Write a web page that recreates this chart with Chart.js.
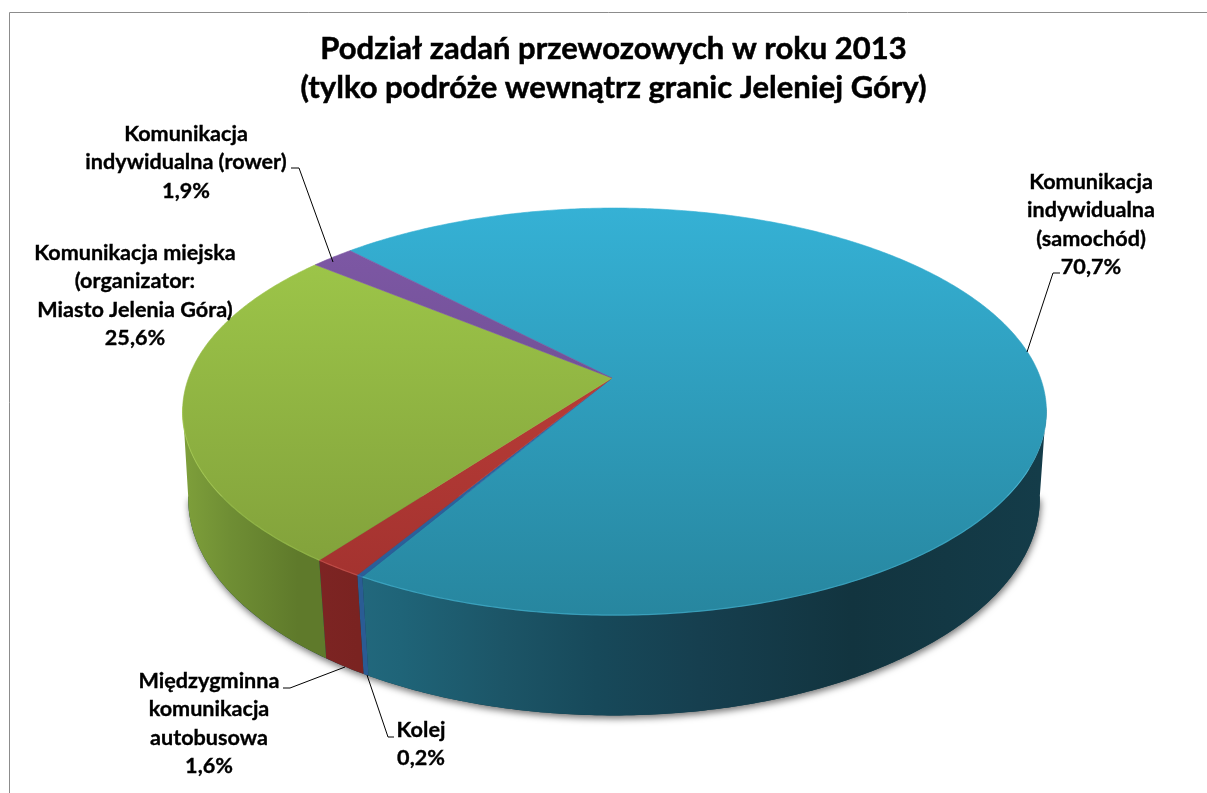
<!DOCTYPE html>
<html>
<head>
<meta charset="utf-8">
<title>Podział zadań przewozowych</title>
<script src="https://cdn.jsdelivr.net/npm/chart.js@4"></script>
<style>
  html, body { margin: 0; padding: 0; background: #fff; }
  #wrap { width: 1207px; height: 793px; }
</style>
</head>
<body>
<div id="wrap"><canvas id="chart" width="1207" height="793"></canvas></div>
<script>
const titleLines = ['Podział zadań przewozowych w roku 2013', '(tylko podróże wewnątrz granic Jeleniej Góry)']
const categories = ['Komunikacja indywidualna (samochód)', 'Kolej', 'Międzygminna komunikacja autobusowa', 'Komunikacja miejska (organizator: Miasto Jelenia Góra)', 'Komunikacja indywidualna (rower)']
const shares = [70.7, 0.2, 1.6, 25.6, 1.9]
const labelLines = [
  ['Komunikacja', 'indywidualna', '(samochód)'],
  ['Kolej'],
  ['Międzygminna', 'komunikacja', 'autobusowa'],
  ['Komunikacja miejska', '(organizator:', 'Miasto Jelenia Góra)'],
  ['Komunikacja', 'indywidualna (rower)']
]

// top face colours [far, near], side wall colour stops left to right
const topColors = [['#35b1d5', '#27869f'], ['#2f6fb0', '#2a5c96'], ['#c9433d', '#a0312e'], ['#a1cb4b', '#7e9c39'], ['#8059a8', '#5f4680']]
const wallColors = [
  [[0.2, '#22687d'], [0.25, '#1f6478'], [0.37, '#1c5567'], [0.48, '#17495a'], [0.6, '#163f4f'], [0.78, '#12343f'], [1, '#143c49']],
  [[0, '#2a5c94'], [1, '#2a5c94']],
  [[0, '#86282a'], [0.2, '#7a2321']],
  [[0, '#7d9e3a'], [0.05, '#6f8e34'], [0.13, '#5f7a2b'], [0.16, '#5f7a2b']],
  [[0, '#5f4680'], [1, '#5f4680']]
]
const rimColors = ['#4cc0de', '#3f7fc0', '#e0605a', '#a6cc50', '#9070b8']

// where the labels and their leader lines sit
const labelBoxes = [
  { x: 1091, y: 182, line: [[1060, 273], [1053, 273], [1027, 352]] },
  { x: 421, y: 730, line: [[394, 737], [388, 737], [367, 675]] },
  { x: 209, y: 681, line: [[283, 688], [290, 688], [345, 667]] },
  { x: 135, y: 253, line: null },
  { x: 186, y: 134, line: [[291, 168], [299, 168], [333, 262]] }
]
const labelStep = 28.4
const fontName = 'Lato, "Noto Sans", sans-serif'
const titleSize = 31
const titleLineHeight = 1.26

// perspective of the disc: apex of the slices, half sizes and tilt
const apex = [612, 378]
const topDisc = { x: 614.5, y: 378, a: 426, b: 198, k: 0.165 }
const lowDisc = { x: 614, y: 466, a: 421, b: 212, k: 0.15 }

function project(d, angle) {
  const c = Math.cos(angle), s = Math.sin(angle)
  const w = 1 - d.k * s
  return [d.x + d.a * c / w, d.y + d.b * s / w]
}

function arcPoints(d, from, to) {
  const pts = []
  const n = Math.max(2, Math.ceil((to - from) / 0.01))
  for (let i = 0; i <= n; i++) pts.push(project(d, from + (to - from) * i / n))
  return pts
}

function fillPath(ctx, pts) {
  ctx.beginPath()
  pts.forEach((p, i) => i ? ctx.lineTo(p[0], p[1]) : ctx.moveTo(p[0], p[1]))
  ctx.closePath()
  ctx.fill()
}

const pie3d = {
  id: 'pie3d',
  beforeDraw(chart) {
    const ctx = chart.ctx
    ctx.save()
    ctx.strokeStyle = '#8c8c8c'
    ctx.lineWidth = 1
    ctx.beginPath()
    ctx.moveTo(9.5, 793)
    ctx.lineTo(9.5, 12.5)
    ctx.lineTo(1207, 12.5)
    ctx.stroke()
    ctx.restore()
  },
  beforeDatasetsDraw(chart) {
    const ctx = chart.ctx
    const arcs = chart.getDatasetMeta(0).data
    const frontFrom = 0.14, frontTo = 3.0
    ctx.save()

    // soft shadow under the body
    ctx.save()
    ctx.shadowColor = 'rgba(0,0,0,0.55)'
    ctx.shadowBlur = 7
    ctx.shadowOffsetX = 1
    ctx.shadowOffsetY = 3
    ctx.fillStyle = '#143d4b'
    fillPath(ctx, arcPoints(lowDisc, frontFrom, frontTo))
    ctx.restore()

    const ranges = arc => {
      let a0 = arc.startAngle
      while (a0 < 0) a0 += Math.PI * 2
      const a1 = a0 + (arc.endAngle - arc.startAngle)
      return [[a0, a1], [a0 - Math.PI * 2, a1 - Math.PI * 2]]
    }

    // side walls, only the part facing the viewer
    arcs.forEach((arc, i) => {
      ranges(arc).forEach(([p, q]) => {
        const from = Math.max(p, frontFrom), to = Math.min(q, frontTo)
        if (to <= from) return
        const grad = ctx.createLinearGradient(187, 0, 1040, 0)
        wallColors[i].forEach(s => grad.addColorStop(s[0], s[1]))
        ctx.fillStyle = grad
        const pts = arcPoints(topDisc, from, to).concat(arcPoints(lowDisc, from, to).reverse())
        fillPath(ctx, pts)
      })
    })

    // top faces
    arcs.forEach((arc, i) => {
      const grad = ctx.createLinearGradient(0, 208, 0, 615)
      grad.addColorStop(0, topColors[i][0])
      grad.addColorStop(1, topColors[i][1])
      ctx.fillStyle = grad
      const pts = [apex].concat(arcPoints(topDisc, arc.startAngle, arc.endAngle))
      fillPath(ctx, pts)
      ctx.strokeStyle = grad
      ctx.lineWidth = 0.6
      ctx.stroke()
    })

    // thin lighter rim on the front edge
    arcs.forEach((arc, i) => {
      ranges(arc).forEach(([p, q]) => {
        const from = Math.max(p, frontFrom + 0.3), to = Math.min(q, frontTo)
        if (to <= from) return
        ctx.strokeStyle = rimColors[i]
        ctx.globalAlpha = 0.55
        ctx.lineWidth = 1.2
        ctx.beginPath()
        arcPoints(topDisc, from, to).forEach((pt, j) => j ? ctx.lineTo(pt[0], pt[1]) : ctx.moveTo(pt[0], pt[1]))
        ctx.stroke()
        ctx.globalAlpha = 1
      })
    })

    ctx.restore()
    return false
  },
  afterDraw(chart) {
    const ctx = chart.ctx
    ctx.save()
    ctx.fillStyle = '#000'
    ctx.strokeStyle = '#000'
    ctx.textAlign = 'center'
    ctx.textBaseline = 'middle'

    // the reference title is heavier than Lato Bold, thicken it a little
    const tb = chart.titleBlock
    ctx.font = 'bold ' + titleSize + 'px ' + fontName
    ctx.lineWidth = 0.5
    titleLines.forEach((t, j) => {
      ctx.strokeText(t, (tb.left + tb.right) / 2, tb.top + (j + 0.5) * titleSize * titleLineHeight)
    })

    ctx.font = 'bold 21.6px ' + fontName
    shares.forEach((v, i) => {
      const box = labelBoxes[i]
      const lines = labelLines[i].concat(v.toFixed(1).replace('.', ',') + '%')
      ctx.lineWidth = 0.35
      lines.forEach((t, j) => {
        ctx.fillText(t, box.x, box.y + j * labelStep)
        ctx.strokeText(t, box.x, box.y + j * labelStep)
      })
      if (box.line) {
        ctx.lineWidth = 1
        ctx.beginPath()
        box.line.forEach((p, j) => j ? ctx.lineTo(p[0], p[1]) : ctx.moveTo(p[0], p[1]))
        ctx.stroke()
      }
    })
    ctx.restore()
  }
}

new Chart(document.getElementById('chart'), {
  type: 'pie',
  data: {
    labels: categories,
    datasets: [{ data: shares, borderWidth: 0, backgroundColor: topColors.map(c => c[0]) }]
  },
  options: {
    responsive: false,
    animation: false,
    rotation: -44,
    layout: { padding: { left: 20, top: 29 } },
    plugins: {
      legend: { display: false },
      tooltip: { enabled: false },
      title: {
        display: true,
        text: titleLines,
        color: '#000',
        padding: 0,
        font: { family: fontName, size: titleSize, weight: 'bold', lineHeight: titleLineHeight }
      }
    }
  },
  plugins: [pie3d]
})
</script>
</body>
</html>
